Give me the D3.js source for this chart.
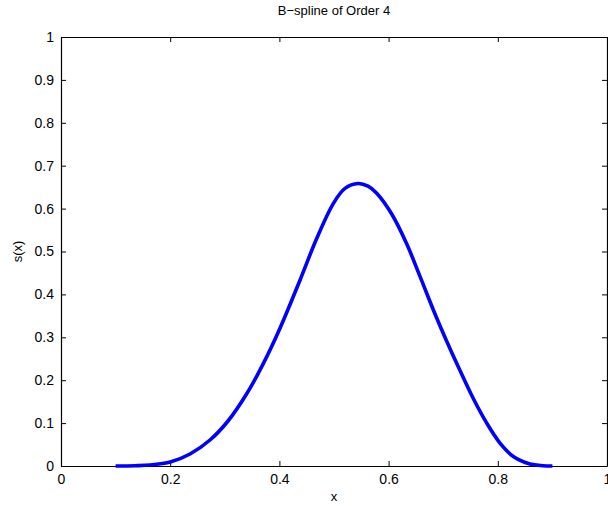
<!DOCTYPE html>
<html>
<head>
<meta charset="utf-8">
<script src="https://cdn.jsdelivr.net/npm/d3@7"></script>
<style>
  html, body { margin: 0; padding: 0; background: #fff; }
  svg { display: block; }
  text { font-family: "Liberation Sans", Arial, Helvetica, sans-serif; fill: #000; }
</style>
</head>
<body>
<svg id="chart" width="608" height="506"></svg>
<script>
// ---- data ----
const xValues = [0.100, 0.1355, 0.163, 0.2015, 0.2363, 0.2729, 0.3059, 0.3401, 0.3705, 0.4011,
                 0.4377, 0.4683, 0.4987, 0.5201, 0.544, 0.5623, 0.5782, 0.6057, 0.6331, 0.6575,
                 0.685, 0.7064, 0.7308, 0.7551, 0.7797, 0.804, 0.8284, 0.859, 0.8828, 0.900];
const yValues = [0.000, 0.0007, 0.0023, 0.0100, 0.0280, 0.0606, 0.1049, 0.1683, 0.2387, 0.3212,
                 0.4331, 0.5303, 0.6117, 0.6471, 0.6585, 0.6522, 0.6359, 0.5874, 0.5179, 0.4420,
                 0.3543, 0.2909, 0.2226, 0.1573, 0.1000, 0.0534, 0.0221, 0.0047, 0.0007, 0.000];
const xTicks = [0, 0.2, 0.4, 0.6, 0.8, 1];
const yTicks = [0, 0.1, 0.2, 0.3, 0.4, 0.5, 0.6, 0.7, 0.8, 0.9, 1];
const titleText = "B\u2212spline of Order 4";
const xLabelText = "x";
const yLabelText = "s(x)";

// ---- layout ----
const mLeft = 61, mRight = 607, mTop = 37, mBottom = 466;
const svg = d3.select("#chart");

const x = d3.scaleLinear().domain([0, 1]).range([mLeft, mRight]);
const y = d3.scaleLinear().domain([0, 1]).range([mBottom, mTop]);

const fmt = d => (d === 0 || d === 1) ? String(d) : d3.format(".1f")(d);

// axes (ticks inward, MATLAB style)
const gB = svg.append("g").attr("transform", `translate(0,${mBottom})`)
  .call(d3.axisBottom(x).tickValues(xTicks).tickFormat(fmt).tickSizeInner(-5).tickSizeOuter(0).tickPadding(8));
const gT = svg.append("g").attr("transform", `translate(0,${mTop})`)
  .call(d3.axisTop(x).tickValues(xTicks).tickFormat("").tickSizeInner(-5).tickSizeOuter(0));
const gL = svg.append("g").attr("transform", `translate(${mLeft},0)`)
  .call(d3.axisLeft(y).tickValues(yTicks).tickFormat(fmt).tickSizeInner(-5).tickSizeOuter(0).tickPadding(7));
const gR = svg.append("g").attr("transform", `translate(${mRight},0)`)
  .call(d3.axisRight(y).tickValues(yTicks).tickFormat("").tickSizeInner(-5).tickSizeOuter(0));

[gB, gT, gL, gR].forEach(g => {
  g.select(".domain").attr("stroke", "#000").attr("stroke-width", 1.2);
  g.selectAll(".tick line").attr("stroke", "#000").attr("stroke-width", 1);
  g.selectAll(".tick text").attr("font-size", 14).attr("font-family", "Liberation Sans, Arial, sans-serif").attr("fill", "#000");
});

// curve
const pts = xValues.map((v, i) => [v, yValues[i]]);
const line = d3.line().x(d => x(d[0])).y(d => y(d[1])).curve(d3.curveCatmullRom.alpha(0.5));
svg.append("path").datum(pts)
  .attr("d", line)
  .attr("fill", "none")
  .attr("stroke", "#0000ff")
  .attr("stroke-width", 3.6)
  .attr("stroke-linejoin", "round");

// title and labels
svg.append("text").attr("x", (mLeft + mRight) / 2).attr("y", 15)
  .attr("text-anchor", "middle").attr("font-size", 13).text(titleText);
svg.append("text").attr("x", (mLeft + mRight) / 2).attr("y", 501)
  .attr("text-anchor", "middle").attr("font-size", 13).text(xLabelText);
svg.append("text").attr("transform", `translate(22,${(mTop + mBottom) / 2}) rotate(-90)`)
  .attr("text-anchor", "middle").attr("font-size", 13).text(yLabelText);
</script>
</body>
</html>
